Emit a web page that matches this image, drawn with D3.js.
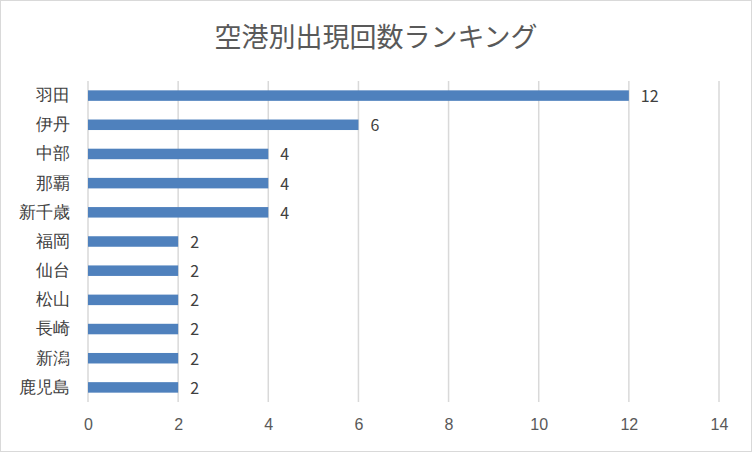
<!DOCTYPE html>
<html>
<head>
<meta charset="utf-8">
<script src="https://cdn.jsdelivr.net/npm/d3@7"></script>
<style>
body { margin: 0; background: #fff; }
svg { display: block; font-family: "Noto Sans CJK JP", "Noto Sans", sans-serif; }
</style>
</head>
<body>
<svg id="chart"></svg>
<script>
const airports = ['羽田', '伊丹', '中部', '那覇', '新千歳', '福岡', '仙台', '松山', '長崎', '新潟', '鹿児島'];
const counts = [12, 6, 4, 4, 4, 2, 2, 2, 2, 2, 2];
const xTicks = [0, 2, 4, 6, 8, 10, 12, 14];
const title = '空港別出現回数ランキング';

const width = 752;
const height = 452;
const plotLeft = 88, plotRight = 719, plotTop = 81, plotBottom = 402;

let svg = d3.select('#chart').attr('width', width).attr('height', height);

svg.append('rect')
    .attr('x', 0.5).attr('y', 0.5)
    .attr('width', width - 1).attr('height', height - 1)
    .attr('fill', '#fff').attr('stroke', '#d9d9d9');

let xScale = d3.scaleLinear().domain([0, 14]).range([plotLeft, plotRight]);
let yScale = d3.scaleBand().domain(airports).range([plotTop, plotBottom]).paddingInner(0.64).paddingOuter(0.32);

// gridlines
svg.append('g')
    .selectAll('line')
    .data(xTicks)
    .enter()
    .append('line')
    .attr('x1', d => xScale(d)).attr('x2', d => xScale(d))
    .attr('y1', plotTop).attr('y2', plotBottom)
    .attr('stroke', '#d9d9d9').attr('stroke-width', 1.5);

// x axis labels
let xAxis = d3.axisBottom(xScale).tickValues(xTicks).tickSize(0).tickPadding(17);
let gx = svg.append('g').attr('transform', 'translate(0,' + plotBottom + ')').call(xAxis);
gx.select('.domain').remove();
gx.selectAll('text').attr('font-size', 16).attr('fill', '#595959').attr('font-family', 'inherit');

// y axis labels
let yAxis = d3.axisLeft(yScale).tickSize(0).tickPadding(18);
let gy = svg.append('g').attr('transform', 'translate(' + plotLeft + ',0)').call(yAxis);
gy.select('.domain').remove();
gy.selectAll('text').attr('font-size', 17).attr('fill', '#404040').attr('font-family', 'inherit');

let data = airports.map((a, i) => ({ name: a, value: counts[i] }));

svg.selectAll('rect.bar')
    .data(data)
    .enter()
    .append('rect')
    .attr('class', 'bar')
    .attr('x', xScale(0))
    .attr('y', d => yScale(d.name))
    .attr('width', d => xScale(d.value) - xScale(0))
    .attr('height', yScale.bandwidth())
    .attr('fill', '#4f81bd');

svg.selectAll('text.val')
    .data(data)
    .enter()
    .append('text')
    .attr('class', 'val')
    .attr('x', d => xScale(d.value) + 12)
    .attr('y', d => yScale(d.name) + yScale.bandwidth() / 2)
    .attr('dy', '0.4em')
    .attr('font-size', 16)
    .attr('fill', '#404040')
    .text(d => d.value);

svg.append('text')
    .attr('x', 376).attr('y', 47)
    .attr('text-anchor', 'middle')
    .attr('font-size', 27)
    .attr('fill', '#595959')
    .text(title);
</script>
</body>
</html>
